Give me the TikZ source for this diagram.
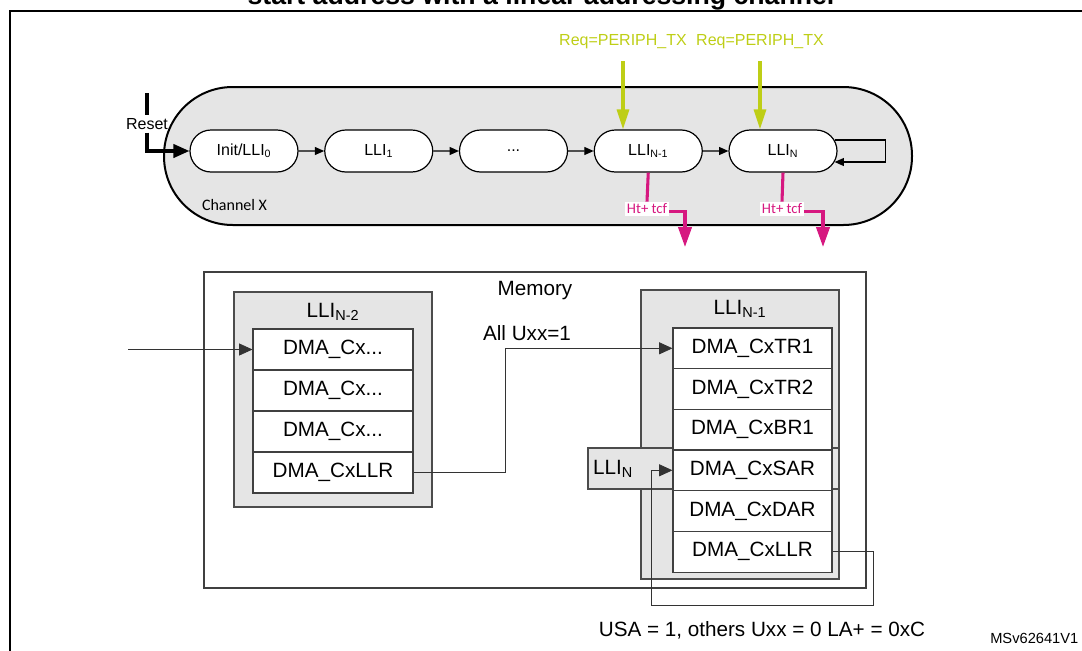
\documentclass[tikz,border=0pt]{standalone}
\usepackage{fontspec}
\setmainfont{Liberation Sans}
\newfontfamily\calfont{Carlito}
\usetikzlibrary{arrows.meta,shapes.misc}
\definecolor{reqgreen}{RGB}{190,206,22}
\definecolor{htpink}{RGB}{214,24,128}
\tikzset{
    state/.style={rounded rectangle,draw,fill=white,line width=0.9pt,minimum width=81pt,minimum height=31.5pt,inner sep=0pt,font=\fontsize{12}{14}\selectfont},
    reg/.style={draw=black!75,fill=white,line width=0.8pt,minimum width=120pt,minimum height=30.75pt,inner sep=0pt,font=\fontsize{15.5}{18}\selectfont},
    lli/.style={draw=black!70,fill=gray!20,line width=0.9pt},
    big/.style={font=\fontsize{15.5}{18}\selectfont,inner sep=0pt},
    sarr/.style={-{Triangle[length=7pt,width=6pt]},line width=0.8pt},
    marr/.style={-{Triangle[length=10pt,width=9pt]},line width=0.6pt,draw=black!80},
    req/.style={draw=reqgreen,line width=2.3pt,-{Triangle[length=15pt,width=9pt]}},
    ht/.style={draw=htpink,line width=2.3pt},
    htarr/.style={ht,-{Triangle[length=15pt,width=10pt]}},
}
\begin{document}
\begin{tikzpicture}[x=0.75pt,y=-0.75pt]
    \useasboundingbox (0,0) rectangle (1082,650);

    \node[font=\bfseries\fontsize{20}{24}\selectfont,anchor=base] (title) at (541,4) {start address with a linear addressing channel};
    \draw[line width=2.2pt] (10,700) -- (10,11) -- (1100,11);

    \draw[fill=gray!20,line width=1.5pt,rounded corners=51.5pt] (164,87) rectangle (912,225);
    \node[font=\calfont\fontsize{12}{14}\selectfont] (chx) at (234.5,205) {Channel X};

    \node[state] (n0) at (244,151) {Init/LLI\textsubscript{0}};
    \node[state] (n1) at (378.75,151) {LLI\textsubscript{1}};
    \node[state] (n2) at (513.5,151) {...};
    \node[state] (nN1) at (648.25,151) {LLI\textsubscript{N-1}};
    \node[state] (nN) at (783,151) {LLI\textsubscript{N}};

    \draw[sarr] (n0) -- (n1);
    \draw[sarr] (n1) -- (n2);
    \draw[sarr] (n2) -- (nN1);
    \draw[sarr] (nN1) -- (nN);
    \draw[sarr] ([shift={(-3,-11)}]nN.east) -- ++(51,0) |- ([shift={(-3,11)}]nN.east);

    \coordinate (rs0) at (147,93);
    \node[font=\fontsize{12}{14}\selectfont,inner sep=2pt] (reset) at (147,124) {Reset};
    \draw[line width=2.3pt] (rs0) -- (reset.north);
    \draw[line width=2.3pt,-{Triangle[length=12pt,width=10pt]}] (reset.south) |- (n0.west);

    \node[text=reqgreen,font=\fontsize{12}{14}\selectfont,inner sep=0pt] (rq1) at (623,42) {Req=PERIPH\_TX};
    \node[text=reqgreen,font=\fontsize{12}{14}\selectfont,inner sep=0pt] (rq2) at (760,42) {Req=PERIPH\_TX};
    \draw[req] ([yshift=-9pt]rq1.south) -- (rq1 |- nN1.north);
    \draw[req] ([yshift=-9pt]rq2.south) -- (rq2 |- nN.north);

    \node[fill=white,text=htpink,font=\calfont\fontsize{11}{13}\selectfont,inner sep=1.5pt] (ht1) at (647,209) {Ht+ tcf};
    \node[fill=white,text=htpink,font=\calfont\fontsize{11}{13}\selectfont,inner sep=1.5pt] (ht2) at (782,209) {Ht+ tcf};
    \coordinate (hto1) at (685,247);
    \coordinate (hto2) at (823,247);
    \draw[ht] (nN1.south) -- (ht1.north);
    \draw[ht] (nN.south) -- (ht2.north);
    \draw[htarr] ([yshift=-2pt]ht1.east) -| (hto1);
    \draw[htarr] ([yshift=-2pt]ht2.east) -| (hto2);

    \draw[draw=black!75,line width=0.9pt] (204,272) rectangle (866,588);
    \node[big] (mem) at (535,291) {Memory};

    \draw[lli] (234,292) rectangle (432,507);
    \node[big] (lbl2) at (333,312) {LLI\textsubscript{N-2}};
    \node[reg] (a1) at (333,349.5) {DMA\_Cx...};
    \node[reg] (a2) at (333,390.5) {DMA\_Cx...};
    \node[reg] (a3) at (333,431.5) {DMA\_Cx...};
    \node[reg] (a4) at (333,472.5) {DMA\_CxLLR};

    \draw[lli] (641,290) rectangle (839,579);
    \node[big] (lbl1) at (740,309) {LLI\textsubscript{N-1}};
    \draw[lli] (588,448) rectangle (839,489);
    \node[big] (lbl0) at (613,469) {LLI\textsubscript{N}};
    \node[reg,minimum height=30.5pt,minimum width=119.25pt] (b1) at (752.5,348.3) {DMA\_CxTR1};
    \node[reg,minimum height=30.5pt,minimum width=119.25pt] (b2) at (752.5,389) {DMA\_CxTR2};
    \node[reg,minimum height=30.5pt,minimum width=119.25pt] (b3) at (752.5,429.7) {DMA\_CxBR1};
    \node[reg,minimum height=30.5pt,minimum width=119.25pt] (b4) at (752.5,470.3) {DMA\_CxSAR};
    \node[reg,minimum height=30.5pt,minimum width=119.25pt] (b5) at (752.5,511) {DMA\_CxDAR};
    \node[reg,minimum height=30.5pt,minimum width=119.25pt] (b6) at (752.5,551.7) {DMA\_CxLLR};

    \coordinate (in) at (128,349.5);
    \draw[marr] (in) -- (a1.west);
    \draw[marr] (a4.east) -- (505,472.5) |- (b1.west);
    \node[big] (allu) at (527,333) {All Uxx=1};
    \draw[marr] (b6.east) -- (873,551.7) -- (873,605) -- (651,605) |- (b4.west);

    \node[big] (usa) at (762,630) {USA = 1, others Uxx = 0 LA+ = 0xC};
    \node[font=\fontsize{11}{13}\selectfont,anchor=west,inner sep=0pt] (ms) at (990,638) {MSv62641V1};
\end{tikzpicture}
\end{document}
